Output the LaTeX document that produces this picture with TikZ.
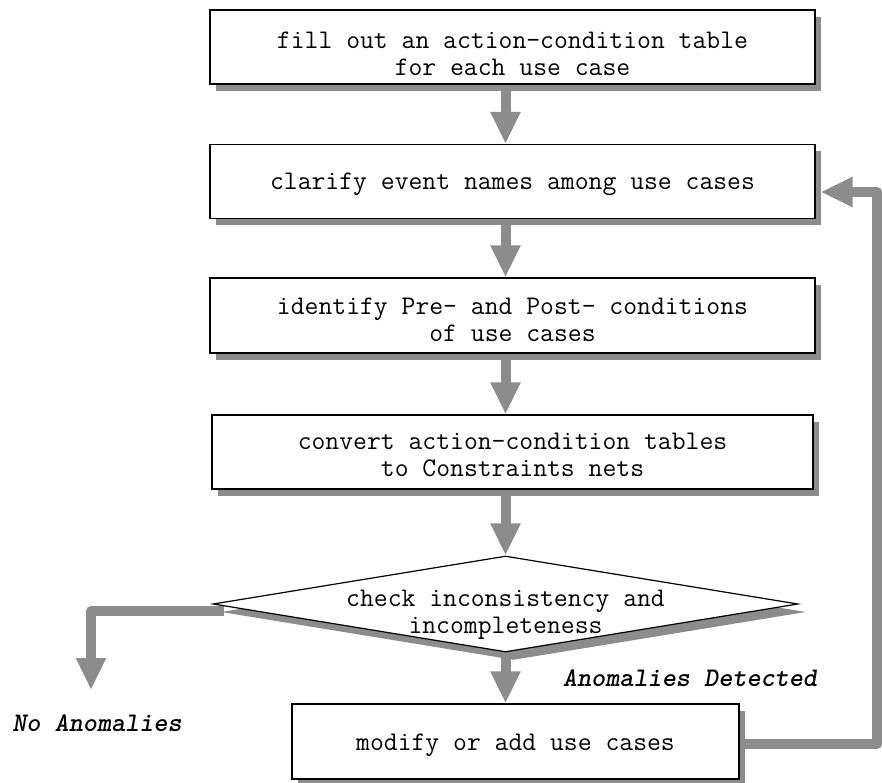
\documentclass[tikz,border=0pt]{standalone}
\usepackage{fontspec}
\setmonofont{Latin Modern Mono}
\newfontfamily\outcomefont{lmmonolt10-boldoblique.otf}
\usetikzlibrary{arrows.meta,shapes.geometric,shadows}
\pgfdeclarelayer{background}
\pgfsetlayers{background,main}
\definecolor{dither}{gray}{0.55}
\begin{document}
\begin{tikzpicture}[x=1pt,y=-1pt,
  every node/.style={font=\ttfamily\fontsize{26.9}{27}\selectfont},
  stepbox/.style={rectangle, draw=black, line width=1.2pt, fill=white,
    minimum width=605pt, minimum height=74pt, inner sep=0pt,
    drop shadow={shadow xshift=6pt, shadow yshift=-7pt, opacity=1, fill=dither}},
  decision/.style={diamond, draw=black, line width=1.2pt, fill=white,
    minimum width=585pt, minimum height=96pt, inner sep=0pt,
    drop shadow={shadow xshift=8pt, shadow yshift=-8pt, opacity=1, fill=dither}},
  steptext/.style={align=center, inner sep=0pt},
  outcome/.style={inner sep=0pt, font=\outcomefont\fontsize{26.9}{27}\selectfont},
  flow/.style={draw=dither, line width=10pt, line join=round,
    -{Triangle[length=32pt, width=28pt]}},
]
\useasboundingbox (0,0) rectangle (882,783);

% process steps
\node[stepbox] (fill) at (512.5,47) {};
\node[steptext] (filltext) at ([yshift=-7pt]fill.center)
  {fill out an action-condition table\\for each use case};

\node[stepbox] (clarify) at (512.5,181.5) {};
\node[steptext] (clarifytext) at ([yshift=-2.5pt]clarify.center)
  {clarify event names among use cases};

\node[stepbox, minimum height=75pt] (identify) at (512.5,315.5) {};
\node[steptext] (identifytext) at ([yshift=-4pt]identify.center)
  {identify Pre- and Post- conditions\\of use cases};

\node[stepbox, minimum width=601pt] (convert) at (512.5,452) {};
\node[steptext] (converttext) at ([yshift=-3pt]convert.center)
  {convert action-condition tables\\to Constraints nets};

% decision
\node[decision] (dec) at (505.5,604) {};
\node[steptext] (dectext) at ([yshift=-11pt]dec.center)
  {check inconsistency and\\incompleteness};

% repair step
\node[stepbox, minimum width=447pt, minimum height=75pt] (modify) at (515.5,741.5) {};
\node[steptext] (modifytext) at ([yshift=-3.5pt]modify.center)
  {modify or add use cases};

% outcome labels
\node[outcome] (none) at (97,723) {No Anomalies};
\node[outcome] (found) at (690,678) {Anomalies Detected};

% connectors, kept behind the shapes
\coordinate (noend) at (91,690);
\coordinate (fbstart) at ([yshift=-2.5pt]modify.east);
\coordinate (fbend) at ([shift={(5pt,-10.5pt)}]clarify.east);
\coordinate (fbrail) at (877,400);
\begin{pgfonlayer}{background}
  \fill[white] (0,0) rectangle (882,783);
  \draw[flow] (fill.south -| dec.north) -- (clarify.north -| dec.north);
  \draw[flow] (clarify.south -| dec.north) -- (identify.north -| dec.north);
  \draw[flow] (identify.south -| dec.north) -- (convert.north -| dec.north);
  \draw[flow] (convert.south -| dec.north) -- (dec.north);
  \draw[flow] (dec.south) -- (modify.north -| dec.south);
  \draw[flow] ([shift={(12pt,-7pt)}]dec.west) -| (noend);
  \draw[flow] (fbstart) -- (fbstart -| fbrail) |- (fbend);
\end{pgfonlayer}
\end{tikzpicture}
\end{document}
